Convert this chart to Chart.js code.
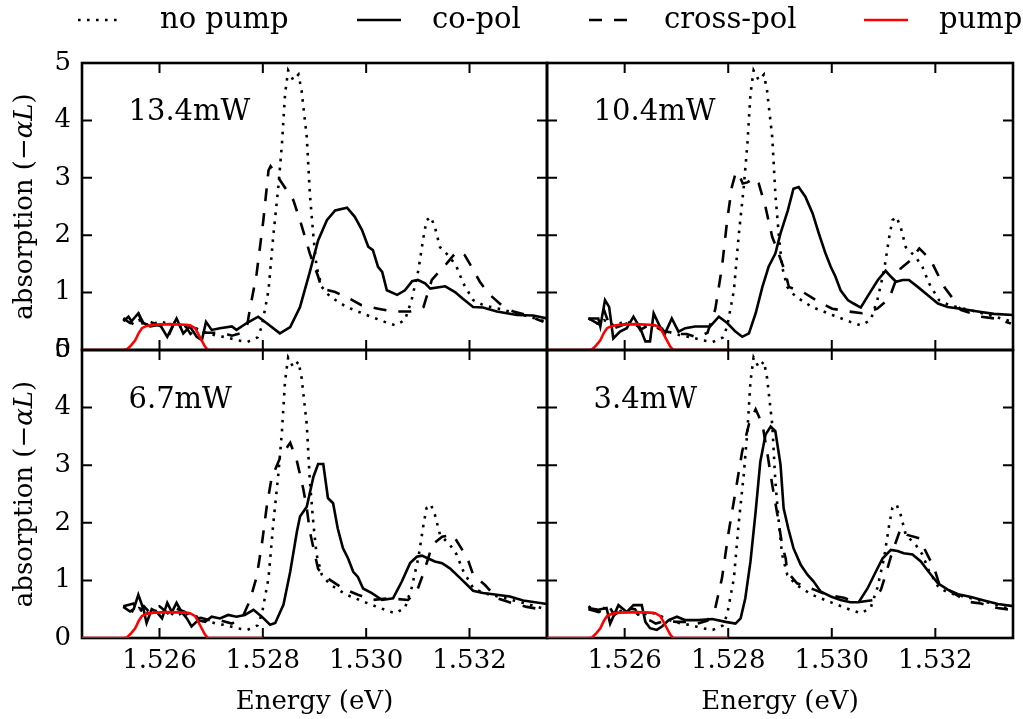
<!DOCTYPE html>
<html>
<head>
<meta charset="utf-8">
<script src="https://cdn.jsdelivr.net/npm/chart.js@4.4.0/dist/chart.umd.min.js"></script>
<style>
  body { margin: 0; background: #fff; }
  #wrap { position: relative; width: 1023px; height: 719px; overflow: hidden; background: #fff; font-family: 'DejaVu Serif', serif; }
  #wrap canvas { position: absolute; left: 0; top: 0; }
  .leg-text { position: absolute; top: 4px; font-size: 29px; line-height: 29px; color: #000; white-space: nowrap; }
  .leg-line { position: absolute; top: 17px; }
</style>
</head>
<body>
<div id="wrap">
  <canvas id="p0" width="1023" height="719"></canvas>
  <canvas id="p1" width="1023" height="719"></canvas>
  <canvas id="p2" width="1023" height="719"></canvas>
  <canvas id="p3" width="1023" height="719"></canvas>
</div>
<script>
// ---- data (energy in eV, absorption -alpha*L) ----
const seriesNames = ['no pump', 'co-pol', 'cross-pol', 'pump'];
const powers = ['13.4mW', '10.4mW', '6.7mW', '3.4mW'];
const xTicks = [1.526, 1.528, 1.530, 1.532];
const yTicks = [0, 1, 2, 3, 4, 5];

// same reference spectrum in every panel
const noPump = [[1.5253,0.55],[1.5254,0.5],[1.5255,0.45],[1.5256,0.52],[1.5257,0.48],[1.5258,0.42],[1.526,0.5],
  [1.5262,0.45],[1.5263,0.38],[1.5265,0.45],[1.5267,0.38],[1.5269,0.3],[1.5271,0.25],[1.5273,0.22],[1.5275,0.17],
  [1.5277,0.14],[1.5279,0.22],[1.52798,0.41],[1.52811,1.04],[1.5282,1.97],[1.5283,2.84],[1.52837,3.59],[1.52843,4.46],
  [1.52849,4.87],[1.52859,4.7],[1.52869,4.8],[1.52875,4.52],[1.52885,3.71],[1.52891,2.72],[1.52898,1.97],[1.52904,1.45],
  [1.52914,1.1],[1.5293,0.93],[1.52962,0.75],[1.53001,0.61],[1.53036,0.49],[1.53056,0.43],[1.53075,0.52],[1.53088,0.87],
  [1.53101,1.39],[1.53111,1.97],[1.53117,2.26],[1.53125,2.32],[1.53133,2.14],[1.53143,1.79],[1.53162,1.62],[1.53175,1.45],
  [1.53188,1.16],[1.53207,0.87],[1.53227,0.78],[1.53265,0.7],[1.53304,0.61],[1.5335,0.49]];

const pump = [[1.5245,0],[1.5253,0],[1.52537,0.01],[1.52545,0.08],[1.52553,0.17],[1.5256,0.3],[1.52566,0.38],
  [1.52575,0.42],[1.5259,0.44],[1.5262,0.45],[1.5265,0.44],[1.52659,0.43],[1.52669,0.38],[1.52678,0.23],[1.52688,0.06],
  [1.52694,0],[1.528,0]];

const co134 = [[1.5253,0.55],[1.52543,0.47],[1.52559,0.64],[1.52569,0.47],[1.52582,0.41],[1.52601,0.44],[1.52615,0.23],
  [1.52633,0.55],[1.52646,0.29],[1.52659,0.41],[1.52672,0.23],[1.52682,0.17],[1.5269,0.49],[1.52701,0.35],[1.52717,0.38],
  [1.5274,0.41],[1.52749,0.35],[1.52769,0.47],[1.52791,0.58],[1.52807,0.47],[1.52833,0.29],[1.52853,0.4],[1.52872,0.75],
  [1.52891,1.36],[1.52907,1.91],[1.52924,2.26],[1.5294,2.43],[1.52963,2.48],[1.52978,2.32],[1.52992,2.09],[1.53004,1.8],
  [1.53013,1.74],[1.53023,1.45],[1.53031,1.36],[1.5304,1.04],[1.5306,0.96],[1.53075,1.04],[1.53089,1.2],[1.531,1.22],
  [1.53114,1.16],[1.53124,1.07],[1.53153,1.11],[1.53172,1.01],[1.53186,0.9],[1.53207,0.75],[1.53226,0.74],[1.53253,0.67],
  [1.53292,0.61],[1.53323,0.6],[1.5335,0.55]];
const cross134 = [[1.5253,0.5],[1.5254,0.58],[1.5255,0.45],[1.5256,0.62],[1.5257,0.4],[1.5258,0.5],[1.526,0.42],
  [1.5261,0.46],[1.5262,0.3],[1.5263,0.5],[1.5264,0.4],[1.5265,0.42],[1.5266,0.28],[1.5267,0.35],[1.5268,0.3],[1.527,0.3],
  [1.5272,0.3],[1.5274,0.25],[1.5276,0.3],[1.5277,0.45],[1.52775,0.71],[1.52788,1.33],[1.52801,2.26],[1.52811,3.13],
  [1.52815,3.2],[1.52833,2.96],[1.52859,2.61],[1.52872,2.26],[1.52891,1.68],[1.52907,1.28],[1.52914,1.07],[1.5294,1.01],
  [1.52969,0.89],[1.52991,0.78],[1.53023,0.72],[1.53052,0.67],[1.53085,0.67],[1.53098,0.7],[1.53111,0.75],[1.53127,1.22],
  [1.53156,1.51],[1.53172,1.68],[1.5318,1.72],[1.53191,1.65],[1.53204,1.45],[1.5322,1.19],[1.53236,0.99],[1.53262,0.78],
  [1.53285,0.67],[1.53311,0.61],[1.53343,0.49]];

const co104 = [[1.5253,0.55],[1.52549,0.55],[1.52553,0.41],[1.52562,0.87],[1.5257,0.75],[1.52578,0.2],[1.52591,0.32],
  [1.52604,0.38],[1.52617,0.58],[1.5263,0.38],[1.5264,0.15],[1.52649,0.15],[1.52656,0.64],[1.52668,0.41],[1.52678,0.29],
  [1.52691,0.55],[1.52704,0.32],[1.52717,0.38],[1.52736,0.41],[1.52765,0.41],[1.52782,0.58],[1.52798,0.47],[1.52814,0.32],
  [1.52827,0.23],[1.5284,0.29],[1.52853,0.64],[1.52866,1.1],[1.52878,1.45],[1.52891,1.68],[1.52901,2.03],[1.52915,2.43],
  [1.52926,2.81],[1.52936,2.84],[1.52949,2.67],[1.52963,2.38],[1.52975,2.03],[1.52988,1.68],[1.52998,1.45],[1.53007,1.28],
  [1.53017,1.04],[1.53031,0.87],[1.53042,0.81],[1.53056,0.74],[1.53071,0.96],[1.53089,1.22],[1.53104,1.38],[1.53114,1.28],
  [1.53124,1.19],[1.53137,1.22],[1.53149,1.22],[1.53166,1.1],[1.53185,0.96],[1.53205,0.81],[1.53224,0.75],[1.53255,0.71],
  [1.53282,0.67],[1.53313,0.63],[1.53352,0.61]];
const cross104 = [[1.5253,0.55],[1.5255,0.45],[1.5256,0.7],[1.5257,0.45],[1.5258,0.38],[1.526,0.45],[1.5262,0.5],
  [1.5263,0.35],[1.5265,0.45],[1.5267,0.35],[1.5269,0.3],[1.527,0.28],[1.5272,0.28],[1.5274,0.22],[1.5276,0.3],
  [1.52775,0.71],[1.52788,1.45],[1.52798,2.26],[1.52807,2.84],[1.52814,3.07],[1.52819,3.1],[1.52828,2.9],[1.52837,2.92],
  [1.5285,3.0],[1.52859,2.9],[1.52872,2.49],[1.52885,1.97],[1.52895,1.74],[1.52911,1.33],[1.52917,1.1],[1.52946,1.0],
  [1.52975,0.84],[1.53001,0.72],[1.53033,0.67],[1.53059,0.64],[1.53088,0.72],[1.53111,0.9],[1.53124,1.22],[1.53133,1.42],
  [1.53153,1.57],[1.53169,1.77],[1.53191,1.57],[1.53204,1.33],[1.53217,1.1],[1.53236,0.87],[1.53249,0.7],[1.53288,0.58],
  [1.53314,0.55],[1.53346,0.46]];

const co67 = [[1.5253,0.54],[1.52543,0.46],[1.5255,0.5],[1.52559,0.75],[1.52569,0.5],[1.52575,0.26],[1.52585,0.5],
  [1.52595,0.45],[1.52605,0.34],[1.52615,0.61],[1.52624,0.45],[1.52633,0.61],[1.52643,0.45],[1.52653,0.34],[1.52662,0.2],
  [1.52675,0.31],[1.52688,0.28],[1.52701,0.37],[1.52717,0.34],[1.52733,0.4],[1.52749,0.37],[1.52765,0.4],[1.52782,0.49],
  [1.52798,0.37],[1.52814,0.23],[1.52824,0.26],[1.5284,0.58],[1.52853,1.15],[1.52866,1.85],[1.52872,2.11],[1.52885,2.28],
  [1.52898,2.8],[1.52907,3.02],[1.52917,3.02],[1.52926,2.43],[1.52936,2.34],[1.52945,1.9],[1.52955,1.56],[1.52965,1.38],
  [1.52975,1.15],[1.52984,1.06],[1.52994,0.86],[1.53011,0.78],[1.53031,0.66],[1.53052,0.69],[1.53069,0.98],[1.53085,1.3],
  [1.53098,1.41],[1.53108,1.43],[1.5312,1.38],[1.53133,1.33],[1.53147,1.3],[1.53162,1.21],[1.53182,1.04],[1.53207,0.82],
  [1.53226,0.78],[1.53253,0.75],[1.53278,0.72],[1.53304,0.65],[1.5335,0.59]];
const cross67 = [[1.5253,0.55],[1.5255,0.6],[1.5256,0.42],[1.5257,0.55],[1.5258,0.45],[1.526,0.55],[1.5262,0.4],
  [1.5263,0.52],[1.5265,0.45],[1.5266,0.32],[1.5268,0.35],[1.527,0.3],[1.5272,0.3],[1.5274,0.25],[1.5276,0.35],
  [1.52775,0.65],[1.52788,1.06],[1.52798,1.62],[1.52808,2.31],[1.52817,2.78],[1.52833,3.12],[1.52846,3.3],[1.52853,3.39],
  [1.52866,3.07],[1.52878,2.6],[1.52885,2.26],[1.52891,1.85],[1.52901,1.44],[1.52907,1.2],[1.52917,1.1],[1.5293,1.01],
  [1.52955,0.86],[1.52984,0.75],[1.53013,0.66],[1.53042,0.69],[1.53081,0.66],[1.53098,0.81],[1.5311,1.1],[1.5312,1.38],
  [1.53128,1.62],[1.53147,1.76],[1.53168,1.79],[1.53186,1.53],[1.53198,1.33],[1.53207,1.1],[1.5323,0.92],[1.53253,0.69],
  [1.53285,0.6],[1.53311,0.54],[1.5335,0.48]];

const co34 = [[1.5253,0.52],[1.52549,0.49],[1.52565,0.52],[1.52572,0.25],[1.52588,0.57],[1.52604,0.45],[1.52617,0.57],
  [1.52633,0.57],[1.5264,0.28],[1.52649,0.17],[1.52662,0.14],[1.52672,0.2],[1.52685,0.31],[1.52701,0.37],[1.52717,0.31],
  [1.52743,0.31],[1.52769,0.33],[1.52795,0.28],[1.52814,0.25],[1.52824,0.34],[1.52833,0.69],[1.52843,1.33],[1.52853,2.2],
  [1.52862,3.06],[1.52872,3.53],[1.52882,3.67],[1.52891,3.59],[1.52901,3.01],[1.52907,2.25],[1.52916,1.9],[1.52926,1.56],
  [1.5294,1.27],[1.52953,1.1],[1.52965,0.98],[1.52978,0.81],[1.52998,0.72],[1.53017,0.66],[1.53036,0.62],[1.53052,0.62],
  [1.53069,0.86],[1.53085,1.15],[1.53098,1.38],[1.53114,1.53],[1.53127,1.51],[1.53139,1.47],[1.53156,1.45],[1.53172,1.33],
  [1.53187,1.15],[1.53205,0.95],[1.53224,0.84],[1.53244,0.76],[1.53269,0.71],[1.53294,0.65],[1.53321,0.59],[1.53352,0.55]];
const cross34 = [[1.5253,0.5],[1.5255,0.45],[1.5257,0.55],[1.5258,0.4],[1.526,0.52],[1.5262,0.5],[1.5263,0.35],
  [1.5265,0.3],[1.5266,0.25],[1.5268,0.3],[1.527,0.28],[1.5272,0.28],[1.5274,0.25],[1.5276,0.3],[1.52775,0.52],
  [1.52788,1.04],[1.52801,1.85],[1.52814,2.54],[1.52827,3.24],[1.5284,3.71],[1.52853,3.97],[1.52866,3.71],[1.52875,3.24],
  [1.52885,2.66],[1.52895,2.14],[1.52904,1.62],[1.52911,1.38],[1.52914,1.15],[1.52933,0.95],[1.52966,0.84],[1.52991,0.75],
  [1.53023,0.7],[1.53049,0.62],[1.53082,0.66],[1.53095,0.84],[1.53104,1.1],[1.53117,1.5],[1.53124,1.67],[1.53133,1.9],
  [1.53146,1.79],[1.53169,1.73],[1.53185,1.44],[1.53198,1.21],[1.53208,0.92],[1.53224,0.84],[1.53262,0.63],[1.53288,0.6],
  [1.5332,0.52],[1.53346,0.49]];

// ---- styling ----
const FONT = "'DejaVu Serif', serif";
Chart.defaults.font.family = FONT;
Chart.defaults.color = '#000';

const lineStyles = [
  { color: '#000', width: 2.6, dash: [2.6, 6.4] },
  { color: '#000', width: 2.6, dash: [] },
  { color: '#000', width: 2.6, dash: [13, 12] },
  { color: '#ff0000', width: 2.6, dash: [] }
];

const toXY = pairs => pairs.map(([x, y]) => ({ x, y }));

// frame + inward ticks under the curves, labels on top
const framePlugin = {
  id: 'frame',
  beforeDatasetsDraw(chart) {
    const { ctx, chartArea: a } = chart;
    const xs = chart.scales.x, ys = chart.scales.y;
    ctx.save();
    ctx.strokeStyle = '#000';
    ctx.lineWidth = 2;
    ctx.beginPath();
    xs.ticks.forEach(t => {
      const px = xs.getPixelForValue(t.value);
      ctx.moveTo(px, a.bottom); ctx.lineTo(px, a.bottom - 10);
      ctx.moveTo(px, a.top); ctx.lineTo(px, a.top + 10);
    });
    ys.ticks.forEach(t => {
      const py = ys.getPixelForValue(t.value);
      ctx.moveTo(a.left, py); ctx.lineTo(a.left + 10, py);
      ctx.moveTo(a.right, py); ctx.lineTo(a.right - 10, py);
    });
    ctx.stroke();
    ctx.lineWidth = 2.6;
    ctx.strokeRect(a.left, a.top, a.right - a.left, a.bottom - a.top);
    ctx.restore();
  },
  afterDraw(chart, args, opts) {
    const { ctx, chartArea: a } = chart;
    const xs = chart.scales.x, ys = chart.scales.y;
    ctx.save();
    ctx.fillStyle = '#000';
    ctx.font = '29px ' + FONT;
    ctx.textBaseline = 'alphabetic';
    ctx.textAlign = 'left';
    ctx.fillText(opts.label, xs.getPixelForValue(1.5254), ys.getPixelForValue(4.0));

    // y axis title with italic alpha L
    if (opts.yTitle) {
      const parts = [
        { t: 'absorption (\u2212', f: '26px ' + FONT },
        { t: '\u03b1L', f: 'italic 26px ' + FONT },
        { t: ')', f: '26px ' + FONT }
      ];
      let total = 0;
      parts.forEach(p => { ctx.font = p.f; p.w = ctx.measureText(p.t).width; total += p.w; });
      ctx.translate(32, (a.top + a.bottom) / 2);
      ctx.rotate(-Math.PI / 2);
      let cx = -total / 2;
      parts.forEach(p => { ctx.font = p.f; ctx.fillText(p.t, cx, 0); cx += p.w; });
    }
    ctx.restore();
  }
};

const panels = [
  { id: 'p0', co: co134, cross: cross134, col: 0, row: 0 },
  { id: 'p1', co: co104, cross: cross104, col: 1, row: 0 },
  { id: 'p2', co: co67, cross: cross67, col: 0, row: 1 },
  { id: 'p3', co: co34, cross: cross34, col: 1, row: 1 }
];

function zeroPad(s) { s.paddingLeft = 0; s.paddingRight = 0; s.paddingTop = 0; s.paddingBottom = 0; }

panels.forEach((p, i) => {
  const left = p.col === 0;
  const bottom = p.row === 1;
  const series = [noPump, p.co, p.cross, pump];
  new Chart(document.getElementById(p.id), {
    type: 'line',
    data: {
      datasets: series.map((d, k) => ({
        label: seriesNames[k],
        data: toXY(d),
        borderColor: lineStyles[k].color,
        borderWidth: lineStyles[k].width,
        borderDash: lineStyles[k].dash,
        pointRadius: 0,
        tension: 0,
        fill: false,
        order: 3 - k
      }))
    },
    options: {
      responsive: false,
      animation: false,
      events: [],
      layout: {
        autoPadding: false,
        padding: {
          left: left ? 0 : 547,
          right: left ? 476 : 10,
          top: bottom ? 350 : 63,
          bottom: bottom ? 0 : 369
        }
      },
      plugins: {
        legend: { display: false },
        tooltip: { enabled: false },
        frame: { label: powers[i], yTitle: left }
      },
      scales: {
        x: {
          type: 'linear',
          min: 1.5245,
          max: 1.5335,
          afterBuildTicks: s => { s.ticks = xTicks.map(v => ({ value: v })); },
          afterFit: s => { s.height = bottom ? 81 : 0; zeroPad(s); },
          grid: { display: false, drawTicks: false },
          border: { display: false },
          ticks: {
            display: bottom, padding: 8, color: '#000', autoSkip: false, maxRotation: 0,
            font: { size: 26 },
            callback: v => v.toFixed(3)
          },
          title: {
            display: bottom, text: 'Energy (eV)', color: '#000',
            font: { size: 26 }, padding: { top: 0, bottom: 1 }
          }
        },
        y: {
          min: 0,
          max: 5,
          afterBuildTicks: s => { s.ticks = yTicks.map(v => ({ value: v })); },
          afterFit: s => { s.width = left ? 82 : 0; zeroPad(s); },
          grid: { display: false, drawTicks: false },
          border: { display: false },
          ticks: { display: left, padding: 11, color: '#000', font: { size: 26 } }
        }
      }
    },
    plugins: [framePlugin]
  });
});

// legend across the top
const legendSampleX = [78, 357, 589, 864];
const legendTextX = [160, 432, 664, 939];
const wrap = document.getElementById('wrap');
seriesNames.forEach((name, k) => {
  const st = lineStyles[k];
  const svgNS = 'http://www.w3.org/2000/svg';
  const svg = document.createElementNS(svgNS, 'svg');
  svg.setAttribute('class', 'leg-line');
  svg.setAttribute('width', '44');
  svg.setAttribute('height', '6');
  svg.style.left = legendSampleX[k] + 'px';
  const ln = document.createElementNS(svgNS, 'line');
  ln.setAttribute('x1', '0'); ln.setAttribute('x2', '44');
  ln.setAttribute('y1', '3'); ln.setAttribute('y2', '3');
  ln.setAttribute('stroke', st.color);
  ln.setAttribute('stroke-width', st.width);
  if (st.dash.length) ln.setAttribute('stroke-dasharray', st.dash.join(' '));
  svg.appendChild(ln);
  wrap.appendChild(svg);
  const txt = document.createElement('div');
  txt.className = 'leg-text';
  txt.style.left = legendTextX[k] + 'px';
  txt.textContent = name;
  wrap.appendChild(txt);
});
</script>
</body>
</html>
